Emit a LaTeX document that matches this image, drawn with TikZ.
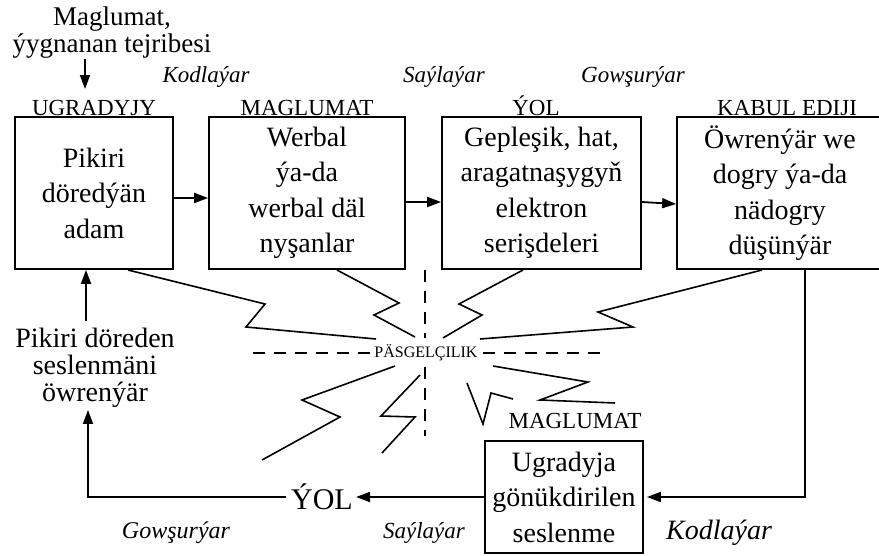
\documentclass[tikz,border=0pt]{standalone}
\usepackage{fontspec}
\setmainfont{Liberation Serif}
\usetikzlibrary{arrows.meta}
\begin{document}
\begin{tikzpicture}[x=1pt,y=-1pt,
  box/.style={draw,line width=1.8pt,align=center,inner sep=0pt,font=\fontsize{28}{35.5}\selectfont},
  head/.style={font=\fontsize{23}{26}\selectfont,anchor=base,inner sep=0pt},
  lab/.style={font=\fontsize{23}{26}\selectfont\itshape,inner sep=0pt},
  arr/.style={line width=1.8pt,-{Triangle[length=14pt,width=10pt]}},
  zig/.style={line width=1.6pt,line join=miter},
  dsh/.style={line width=1.6pt,dash pattern=on 12pt off 9pt}]
\clip (0,0) rectangle (879,555);
\fill[white] (0,0) rectangle (879,555);
% boxes
\node[box,minimum width=158pt,minimum height=152pt] (b1) at (94,193) {Pikiri\\dör{}ed{}ýän\\adam};
\node[box,minimum width=196pt,minimum height=152pt] (b2) at (307,193) {Werbal\\ýa-da\\werbal däl\\nyşanlar};
\node[box,minimum width=199pt,minimum height=152pt] (b3) at (541.5,193) {Gepleşik, hat,\\aragatnaşygyň\\elektron\\serişdeleri};
\node[box,minimum width=206pt,minimum height=152pt] (b4) at (780,193) {Öwrenýär we\\dogry ýa-da\\nädogry\\düşünýär};
\node[box,minimum width=158pt,minimum height=112pt] (b5) at (564,497) {Ugradyja\\gönükdirilen\\seslenme};
% headings
\node[head] (h1) at (94,115) {UGRADYJY};
\node[head] (h2) at (307,115) {MAGLUMAT};
\node[head] (h3) at (536,115) {ÝOL};
\node[head] (h4) at (787,115) {KABUL EDIJI};
% top labels
\node[lab] (l1) at (206,77) {Kodlaýar};
\node[lab] (l2) at (444,77) {Saýlaýar};
\node[lab] (l3) at (633,77) {Gowşurýar};
% source text
\node[font=\fontsize{27}{27}\selectfont,align=center,inner sep=0pt] (src) at (112,33) {Maglumat,\\ýygnanan tejribesi};
\coordinate (t1) at (85,89);
\draw[arr] (src.south -| t1) -- (t1);
% feedback text
\node[font=\fontsize{28}{27}\selectfont,align=center,inner sep=0pt] (fb) at (95,368) {Pikiri döreden\\seslenmäni\\öwrenýär};
\coordinate (cx) at (86,0);
\coordinate (cx2) at (88,0);
\draw[arr] ([yshift=7pt]fb.north -| cx) -- (b1.south -| cx);
% bottom channel
\node[font=\fontsize{30}{30}\selectfont,inner sep=3pt] (yol) at (322,497) {ÝOL};
\draw[line width=1.8pt,-{Triangle[length=14pt,width=10pt]}] ([xshift=-2pt]yol.west) -| ([yshift=-2pt]fb.south -| cx2);
\draw[arr] (b5.west) -- (yol.east);
\coordinate (cr) at (805,0);
\draw[arr,shorten >=3pt] (b4.south -| cr) |- (b5.east);
% top arrows
\draw[arr] ([yshift=-5pt]b1.east) -- ([yshift=-5pt]b2.west);
\draw[arr] ([yshift=-9pt]b2.east) -- ([yshift=-9pt]b3.west);
\draw[arr] ([yshift=-9pt]b3.east) -- ([yshift=-11pt]b4.west);
% bottom labels
\node[lab,font=\fontsize{24}{26}\selectfont\itshape] (l4) at (176,533) {Gowşurýar};
\node[lab] (l5) at (424,533) {Saýlaýar};
\node[lab,font=\fontsize{28}{30}\selectfont\itshape] (l6) at (719,533) {Kodlaýar};
\node[font=\fontsize{23}{26}\selectfont,inner sep=0pt] (m2) at (575,421) {MAGLUMAT};
% noise
\node[font=\fontsize{16}{18}\selectfont,inner sep=0pt] (pas) at (426,353) {PÄSGELÇILIK};
\draw[dsh] (425,270) -- (425,338);
\draw[dsh] (425,367) -- (425,436);
\draw[dsh] ([xshift=-4pt]pas.west) -- (245,353);
\draw[dsh] ([xshift=5pt]pas.east) -- (605,353);
% zigzags
\draw[zig] (128,270) -- (265,304) -- (246,327) -- (376,339);
\draw[zig] (337,270) -- (399,303) -- (374,315) -- (415,337);
\draw[zig] (523,270) -- (459,304) -- (482,315) -- (443,338);
\draw[zig] (762,270) -- (598,312) -- (633,327) -- (480,339);
\draw[zig] (395,366) -- (302,400) -- (340,417) -- (262,460);
\draw[zig] (420,375) -- (381,416) -- (415,417) -- (382,453);
\draw[zig] (467,383) -- (483,424) -- (491,393) -- (513,399);
\draw[zig] (493,366) -- (588,382) -- (540,400) -- (615,403);
\end{tikzpicture}
\end{document}
